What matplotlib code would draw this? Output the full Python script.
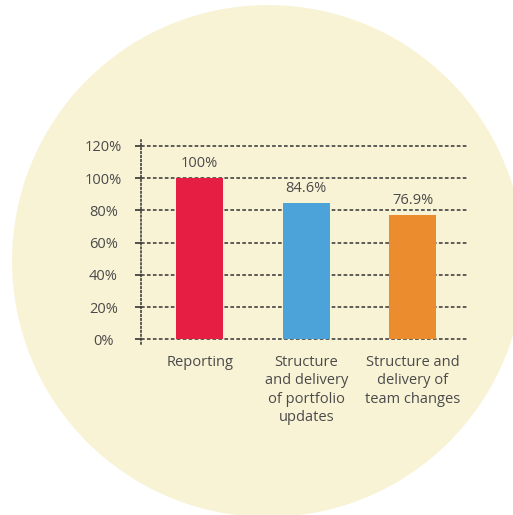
import matplotlib.pyplot as plt
from matplotlib.patches import Circle

# Data
categories = ['Reporting',
              'Structure\nand delivery\nof portfolio\nupdates',
              'Structure and\ndelivery of\nteam changes']
values = [100, 84.6, 76.9]
value_labels = ['100%', '84.6%', '76.9%']
bar_colors = ['#E61E43', '#4CA3DA', '#EB8D2E']
y_ticks = [0, 20, 40, 60, 80, 100, 120]
y_tick_labels = ['0%', '20%', '40%', '60%', '80%', '100%', '120%']

text_color = '#4a4a4a'
fs = 10.5
plt.rcParams['font.family'] = ['Open Sans', 'DejaVu Sans']

W, H = 513, 515
fig = plt.figure(figsize=(W / 100, H / 100), dpi=100)
fig.patch.set_facecolor('white')

# Cream disc behind the chart
bg = fig.add_axes([0, 0, 1, 1])
bg.set_xlim(0, W)
bg.set_ylim(H, 0)
bg.axis('off')
bg.add_patch(Circle((268, 261), 256, facecolor='#F9F3D6', edgecolor='none'))

# Main bar chart
ax = fig.add_axes([141 / W, 171 / H, 326 / W, 204 / H])
ax.patch.set_alpha(0)
x = range(len(categories))
ax.bar(x, values, width=0.44, color=bar_colors, zorder=3)

for xi, v, lab in zip(x, values, value_labels):
    ax.annotate(lab, (xi, v), xytext=(0, 5), textcoords='offset points',
                ha='center', va='bottom', fontsize=fs, color=text_color)

ax.set_xlim(-0.551, 2.509)
ax.set_ylim(-2.9, 123.7)
ax.set_yticks(y_ticks)
ax.set_yticklabels(y_tick_labels)
ax.set_xticks(list(x))
ax.set_xticklabels(categories, linespacing=1.3)

ax.tick_params(axis='y', length=4, width=1.2, color='#333333', pad=23,
               labelsize=fs, labelcolor=text_color)
for t in ax.get_yticklabels():
    t.set_horizontalalignment('center')
ax.tick_params(axis='x', length=0, pad=8, labelsize=fs, labelcolor=text_color)

ax.yaxis.grid(True, color='#333333', linewidth=1.1, linestyle=(0, (2.4, 1.5)),
              zorder=0)
ax.set_axisbelow(True)

for side in ['top', 'right', 'bottom']:
    ax.spines[side].set_visible(False)
ax.spines['left'].set_linestyle((0, (1, 1.6)))
ax.spines['left'].set_color('#333333')
ax.spines['left'].set_linewidth(1.1)

fig.savefig('out.png', dpi=100)
